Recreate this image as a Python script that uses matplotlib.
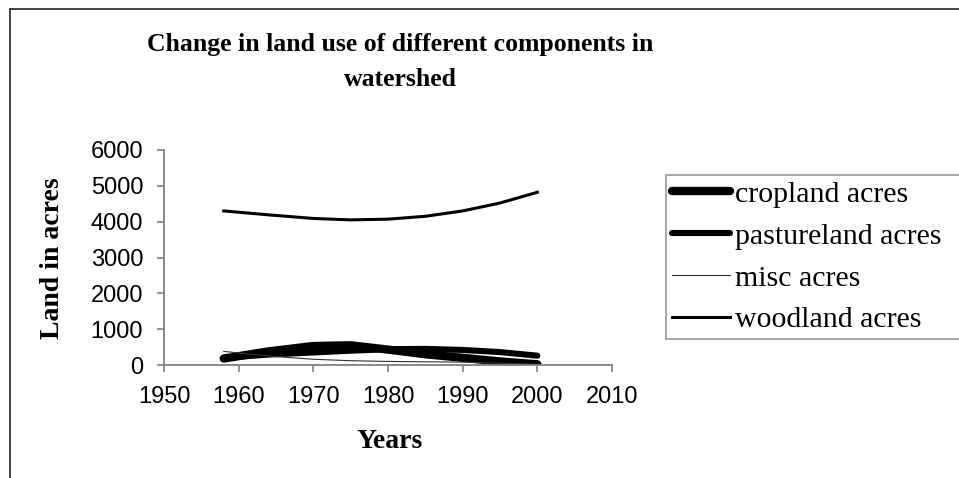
import matplotlib
matplotlib.use("Agg")
import matplotlib.pyplot as plt
from matplotlib.patches import Rectangle

# values (acres)
years = [1958, 1964, 1970, 1975, 1980, 1985, 1990, 1995, 2000]
cropland = [180, 380, 530, 550, 430, 300, 200, 100, 20]
pastureland = [200, 290, 350, 400, 440, 450, 420, 360, 260]
misc = [380, 250, 160, 120, 100, 90, 80, 50, 20]
woodland = [4300, 4190, 4090, 4050, 4070, 4150, 4300, 4520, 4820]

series_names = ["cropland acres", "pastureland acres", "misc acres", "woodland acres"]
x_ticks = [1950, 1960, 1970, 1980, 1990, 2000, 2010]
y_ticks = [0, 1000, 2000, 3000, 4000, 5000, 6000]

W, H = 959, 478
fig = plt.figure(figsize=(W / 100, H / 100), dpi=100)

# outer chart border (cropped at right and bottom like the reference)
fig.patches.append(Rectangle((10 / W, -0.1), 1.2, 1.1 - 9 / H,
                             transform=fig.transFigure, fill=False,
                             edgecolor="#222222", linewidth=1.2))

ax = fig.add_axes([164 / W, 1 - 365 / H, (612 - 164) / W, (365 - 150) / H])

serif = "Liberation Serif"
sans = "Liberation Sans"

ax.plot(years, cropland, color="black", lw=6, solid_capstyle="round",
        label=series_names[0])
ax.plot(years, pastureland, color="black", lw=4.4, solid_capstyle="round",
        label=series_names[1])
ax.plot(years, misc, color="#333333", lw=0.8, label=series_names[2])
ax.plot(years, woodland, color="black", lw=2.2, label=series_names[3])

ax.set_xlim(1950, 2010)
ax.set_ylim(0, 6000)
ax.set_xticks(x_ticks)
ax.set_yticks(y_ticks)

for s in ["top", "right"]:
    ax.spines[s].set_visible(False)
for s in ["left", "bottom"]:
    ax.spines[s].set_color("#808080")
    ax.spines[s].set_linewidth(1.3)
ax.tick_params(direction="out", length=5, width=1.2, color="#808080",
               labelsize=17)
ax.tick_params(axis="y", pad=10)
ax.tick_params(axis="x", pad=10)
for lbl in ax.get_xticklabels() + ax.get_yticklabels():
    lbl.set_fontfamily(sans)

fig.text(400 / W, 1 - 45 / H, "Change in land use of different components in",
         ha="center", va="center", fontsize=18.5, fontweight="bold", family=serif)
fig.text(400 / W, 1 - 79 / H, "watershed",
         ha="center", va="center", fontsize=18.5, fontweight="bold", family=serif)
fig.text(53 / W, 1 - 258 / H, "Land in acres", rotation=90,
         ha="center", va="center", fontsize=20, fontweight="bold", family=serif)
fig.text(390 / W, 1 - 442 / H, "Years",
         ha="center", va="center", fontsize=20, fontweight="bold", family=serif)

leg = fig.legend(loc="upper left", bbox_to_anchor=(666 / W, 1 - 175 / H, 0.4, 0.0),
                 mode="expand", borderaxespad=0, frameon=True, fancybox=False,
                 edgecolor="#808080", prop={"family": serif, "size": 21.5},
                 handlelength=1.94, handletextpad=0.17, borderpad=0.2,
                 labelspacing=0.5)
leg.get_frame().set_linewidth(1.2)

fig.savefig("out.png", dpi=100)
